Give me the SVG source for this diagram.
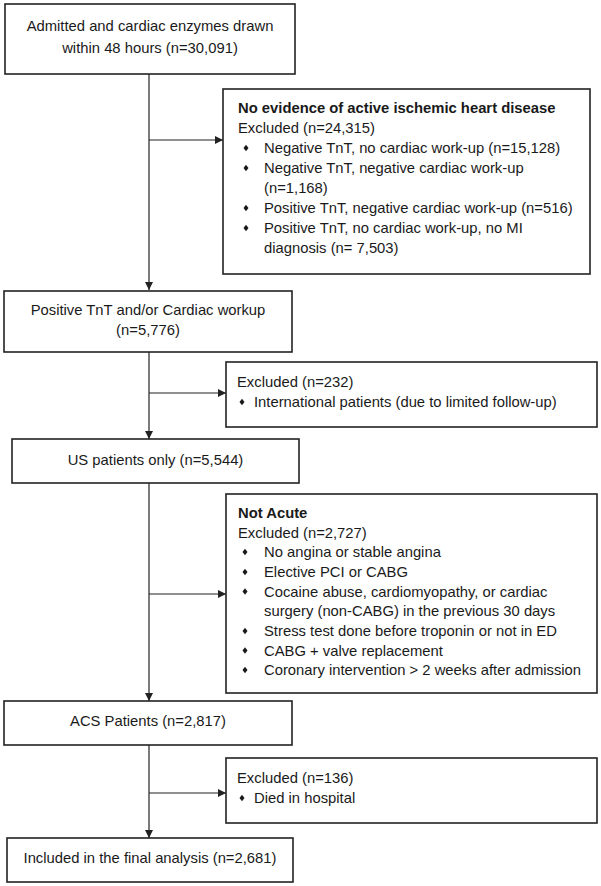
<svg xmlns="http://www.w3.org/2000/svg" width="601" height="886" viewBox="0 0 601 886">
<style>
.box{fill:#fff;stroke:#222;stroke-width:1.6}
.t{font-family:"Liberation Sans",Arial,sans-serif;font-size:14.8px;fill:#1a1a1a}
.c{text-anchor:middle}
.b{font-weight:bold}
.ln{stroke:#222;stroke-width:1.2;fill:none}
.dot{fill:#1a1a1a}
</style>
<defs>
<marker id="ah" viewBox="0 0 10 10" refX="10" refY="5" markerWidth="8" markerHeight="8" markerUnits="userSpaceOnUse" orient="auto">
<path d="M0,0 L10,5 L0,10 z" fill="#222"/>
</marker>
<polygon id="dia" points="0,-3.2 2.5,0 0,3.2 -2.5,0"/>
</defs>
<rect width="601" height="886" fill="#fff"/>
<g id="connectors">
<line class="ln" x1="149" y1="74" x2="149" y2="290" marker-end="url(#ah)"/>
<line class="ln" x1="149" y1="140" x2="223" y2="140" marker-end="url(#ah)"/>
<line class="ln" x1="149" y1="352" x2="149" y2="439" marker-end="url(#ah)"/>
<line class="ln" x1="149" y1="393" x2="226" y2="393" marker-end="url(#ah)"/>
<line class="ln" x1="149" y1="483" x2="149" y2="701" marker-end="url(#ah)"/>
<line class="ln" x1="149" y1="594" x2="226" y2="594" marker-end="url(#ah)"/>
<line class="ln" x1="149" y1="745" x2="149" y2="838" marker-end="url(#ah)"/>
<line class="ln" x1="149" y1="793" x2="226" y2="793" marker-end="url(#ah)"/>
</g>
<g id="n1">
<rect class="box" x="5" y="4" width="290" height="70"/>
<text class="t c" x="150" y="31">Admitted and cardiac enzymes drawn</text>
<text class="t c" x="150" y="53">within 48 hours (n=30,091)</text>
</g>
<g id="x1">
<rect class="box" x="223" y="89" width="367" height="185"/>
<text class="t b" x="238" y="113">No evidence of active ischemic heart disease</text>
<text class="t" x="238" y="133">Excluded (n=24,315)</text>
<use href="#dia" class="dot" x="246" y="148"/>
<text class="t" x="264" y="153">Negative TnT, no cardiac work-up (n=15,128)</text>
<use href="#dia" class="dot" x="246" y="168"/>
<text class="t" x="264" y="173">Negative TnT, negative cardiac work-up</text>
<text class="t" x="264" y="193">(n=1,168)</text>
<use href="#dia" class="dot" x="246" y="208"/>
<text class="t" x="264" y="213">Positive TnT, negative cardiac work-up (n=516)</text>
<use href="#dia" class="dot" x="246" y="228"/>
<text class="t" x="264" y="233">Positive TnT, no cardiac work-up, no MI</text>
<text class="t" x="264" y="253">diagnosis (n= 7,503)</text>
</g>
<g id="n2">
<rect class="box" x="4" y="291" width="288" height="61"/>
<text class="t c" x="148" y="315">Positive TnT and/or Cardiac workup</text>
<text class="t c" x="148" y="335">(n=5,776)</text>
</g>
<g id="x2">
<rect class="box" x="226" y="362" width="371" height="65"/>
<text class="t" x="237" y="387">Excluded (n=232)</text>
<use href="#dia" class="dot" x="242" y="402"/>
<text class="t" x="254" y="407">International patients (due to limited follow-up)</text>
</g>
<g id="n3">
<rect class="box" x="12" y="439" width="287" height="44"/>
<text class="t c" x="155.5" y="465">US patients only (n=5,544)</text>
</g>
<g id="x3">
<rect class="box" x="226" y="494" width="371" height="199"/>
<text class="t b" x="238" y="518">Not Acute</text>
<text class="t" x="238" y="537.5">Excluded (n=2,727)</text>
<use href="#dia" class="dot" x="245" y="552"/>
<text class="t" x="264" y="557">No angina or stable angina</text>
<use href="#dia" class="dot" x="245" y="572"/>
<text class="t" x="264" y="577">Elective PCI or CABG</text>
<use href="#dia" class="dot" x="245" y="591.5"/>
<text class="t" x="264" y="596.5">Cocaine abuse, cardiomyopathy, or cardiac</text>
<text class="t" x="264" y="616">surgery (non-CABG) in the previous 30 days</text>
<use href="#dia" class="dot" x="245" y="631"/>
<text class="t" x="264" y="636">Stress test done before troponin or not in ED</text>
<use href="#dia" class="dot" x="245" y="650.5"/>
<text class="t" x="264" y="655.5">CABG + valve replacement</text>
<use href="#dia" class="dot" x="245" y="670"/>
<text class="t" x="264" y="675">Coronary intervention &gt; 2 weeks after admission</text>
</g>
<g id="n4">
<rect class="box" x="4" y="701" width="288" height="44"/>
<text class="t c" x="148" y="726">ACS Patients (n=2,817)</text>
</g>
<g id="x4">
<rect class="box" x="226" y="758" width="371" height="65"/>
<text class="t" x="237" y="783">Excluded (n=136)</text>
<use href="#dia" class="dot" x="242" y="798"/>
<text class="t" x="254" y="803">Died in hospital</text>
</g>
<g id="n5">
<rect class="box" x="7" y="838" width="286" height="44"/>
<text class="t c" x="150" y="863">Included in the final analysis (n=2,681)</text>
</g>
</svg>
